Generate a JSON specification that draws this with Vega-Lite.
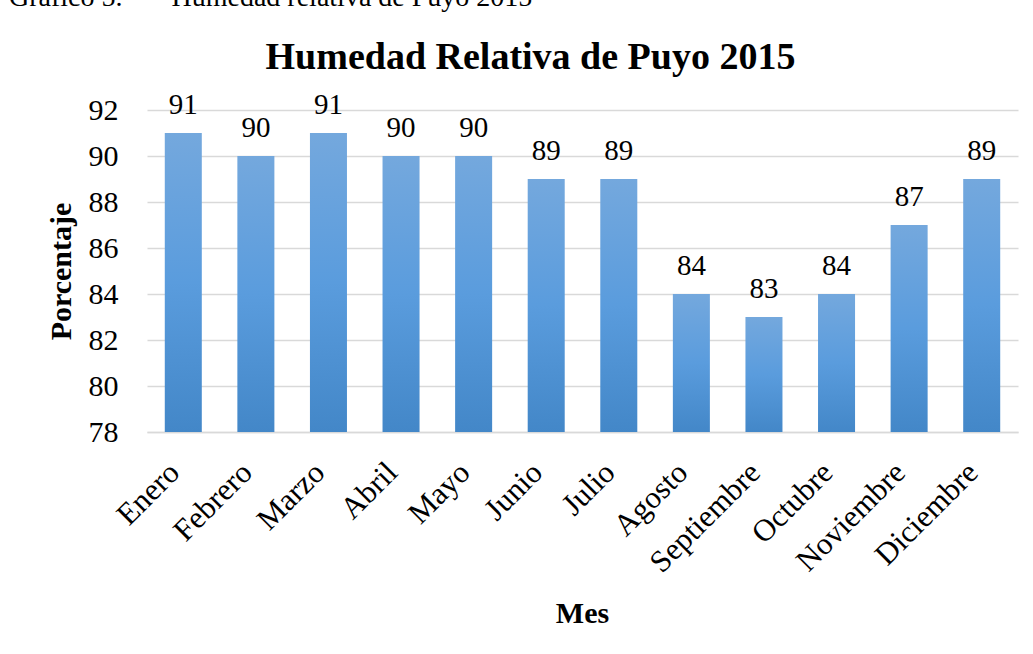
{
  "$schema": "https://vega.github.io/schema/vega-lite/v6.json",
  "width": 871,
  "height": 322,
  "autosize": {"type": "none"},
  "padding": {"left": 147, "top": 110, "right": 15, "bottom": 222},
  "background": "white",
  "title": {
    "text": "Gráfico 5.\u00a0\u00a0\u00a0\u00a0\u00a0\u00a0\u00a0Humedad relativa de Puyo 2015",
    "anchor": "start",
    "dx": -37,
    "offset": 4,
    "baseline": "alphabetic",
    "font": "Liberation Serif",
    "fontSize": 28,
    "fontWeight": "normal",
    "color": "black"
  },
  "config": {
    "view": {"stroke": null},
    "font": "Liberation Serif"
  },
  "data": {
    "values": [
      {"Mes": "Enero", "Porcentaje": 91},
      {"Mes": "Febrero", "Porcentaje": 90},
      {"Mes": "Marzo", "Porcentaje": 91},
      {"Mes": "Abril", "Porcentaje": 90},
      {"Mes": "Mayo", "Porcentaje": 90},
      {"Mes": "Junio", "Porcentaje": 89},
      {"Mes": "Julio", "Porcentaje": 89},
      {"Mes": "Agosto", "Porcentaje": 84},
      {"Mes": "Septiembre", "Porcentaje": 83},
      {"Mes": "Octubre", "Porcentaje": 84},
      {"Mes": "Noviembre", "Porcentaje": 87},
      {"Mes": "Diciembre", "Porcentaje": 89}
    ]
  },
  "resolve": {"axis": {"x": "independent"}},
  "layer": [
    {
      "mark": {
        "type": "bar",
        "color": {
          "gradient": "linear",
          "x1": 0, "y1": 0, "x2": 0, "y2": 1,
          "stops": [
            {"offset": 0, "color": "#74a8dd"},
            {"offset": 0.5, "color": "#5a9cdd"},
            {"offset": 1, "color": "#4387c8"}
          ]
        }
      },
      "encoding": {
        "x": {
          "field": "Mes",
          "type": "nominal",
          "sort": null,
          "scale": {"paddingInner": 0.49, "paddingOuter": 0.245},
          "axis": {
            "orient": "bottom",
            "title": "Mes",
            "titleFont": "Liberation Serif",
            "titleFontSize": 30,
            "titleFontWeight": "bold",
            "titleColor": "black",
            "titleX": 435,
            "titleY": 190,
            "titleBaseline": "alphabetic",
            "titleAlign": "center",
            "labelAngle": -45,
            "labelAlign": "right",
            "labelBaseline": "top",
            "labelFont": "Liberation Serif",
            "labelFontSize": 31,
            "labelColor": "black",
            "labelPadding": 25,
            "labelOffset": -19,
            "ticks": false,
            "domain": true,
            "domainColor": "#d9d9d9",
            "domainWidth": 1.5,
            "grid": false
          }
        },
        "y": {
          "field": "Porcentaje",
          "type": "quantitative",
          "scale": {"domain": [78, 92], "zero": false, "nice": false},
          "axis": {
            "values": [78, 80, 82, 84, 86, 88, 90, 92],
            "title": "Porcentaje",
            "titleFont": "Liberation Serif",
            "titleFontSize": 30,
            "titleFontWeight": "bold",
            "titleColor": "black",
            "titleX": -77,
            "titleY": 161,
            "titleAngle": -90,
            "titleAlign": "center",
            "titleBaseline": "alphabetic",
            "labelFont": "Liberation Serif",
            "labelFontSize": 30,
            "labelColor": "black",
            "labelPadding": 29,
            "ticks": false,
            "domain": false,
            "grid": true,
            "gridColor": "#d9d9d9",
            "gridWidth": 1.5
          }
        },
        "y2": {"datum": 78}
      }
    },
    {
      "mark": {
        "type": "text",
        "baseline": "alphabetic",
        "dy": -19,
        "font": "Liberation Serif",
        "fontSize": 29,
        "color": "black"
      },
      "encoding": {
        "x": {
          "field": "Mes",
          "type": "nominal",
          "sort": null,
          "axis": {
            "orient": "top",
            "title": "Humedad Relativa de Puyo 2015",
            "titleFont": "Liberation Serif",
            "titleFontSize": 38,
            "titleFontWeight": "bold",
            "titleColor": "black",
            "titleX": 383,
            "titleY": -42,
            "titleAlign": "center",
            "titleBaseline": "alphabetic",
            "labels": false,
            "ticks": false,
            "domain": false,
            "grid": false
          }
        },
        "y": {"field": "Porcentaje", "type": "quantitative"},
        "text": {"field": "Porcentaje", "type": "quantitative"}
      }
    }
  ]
}
